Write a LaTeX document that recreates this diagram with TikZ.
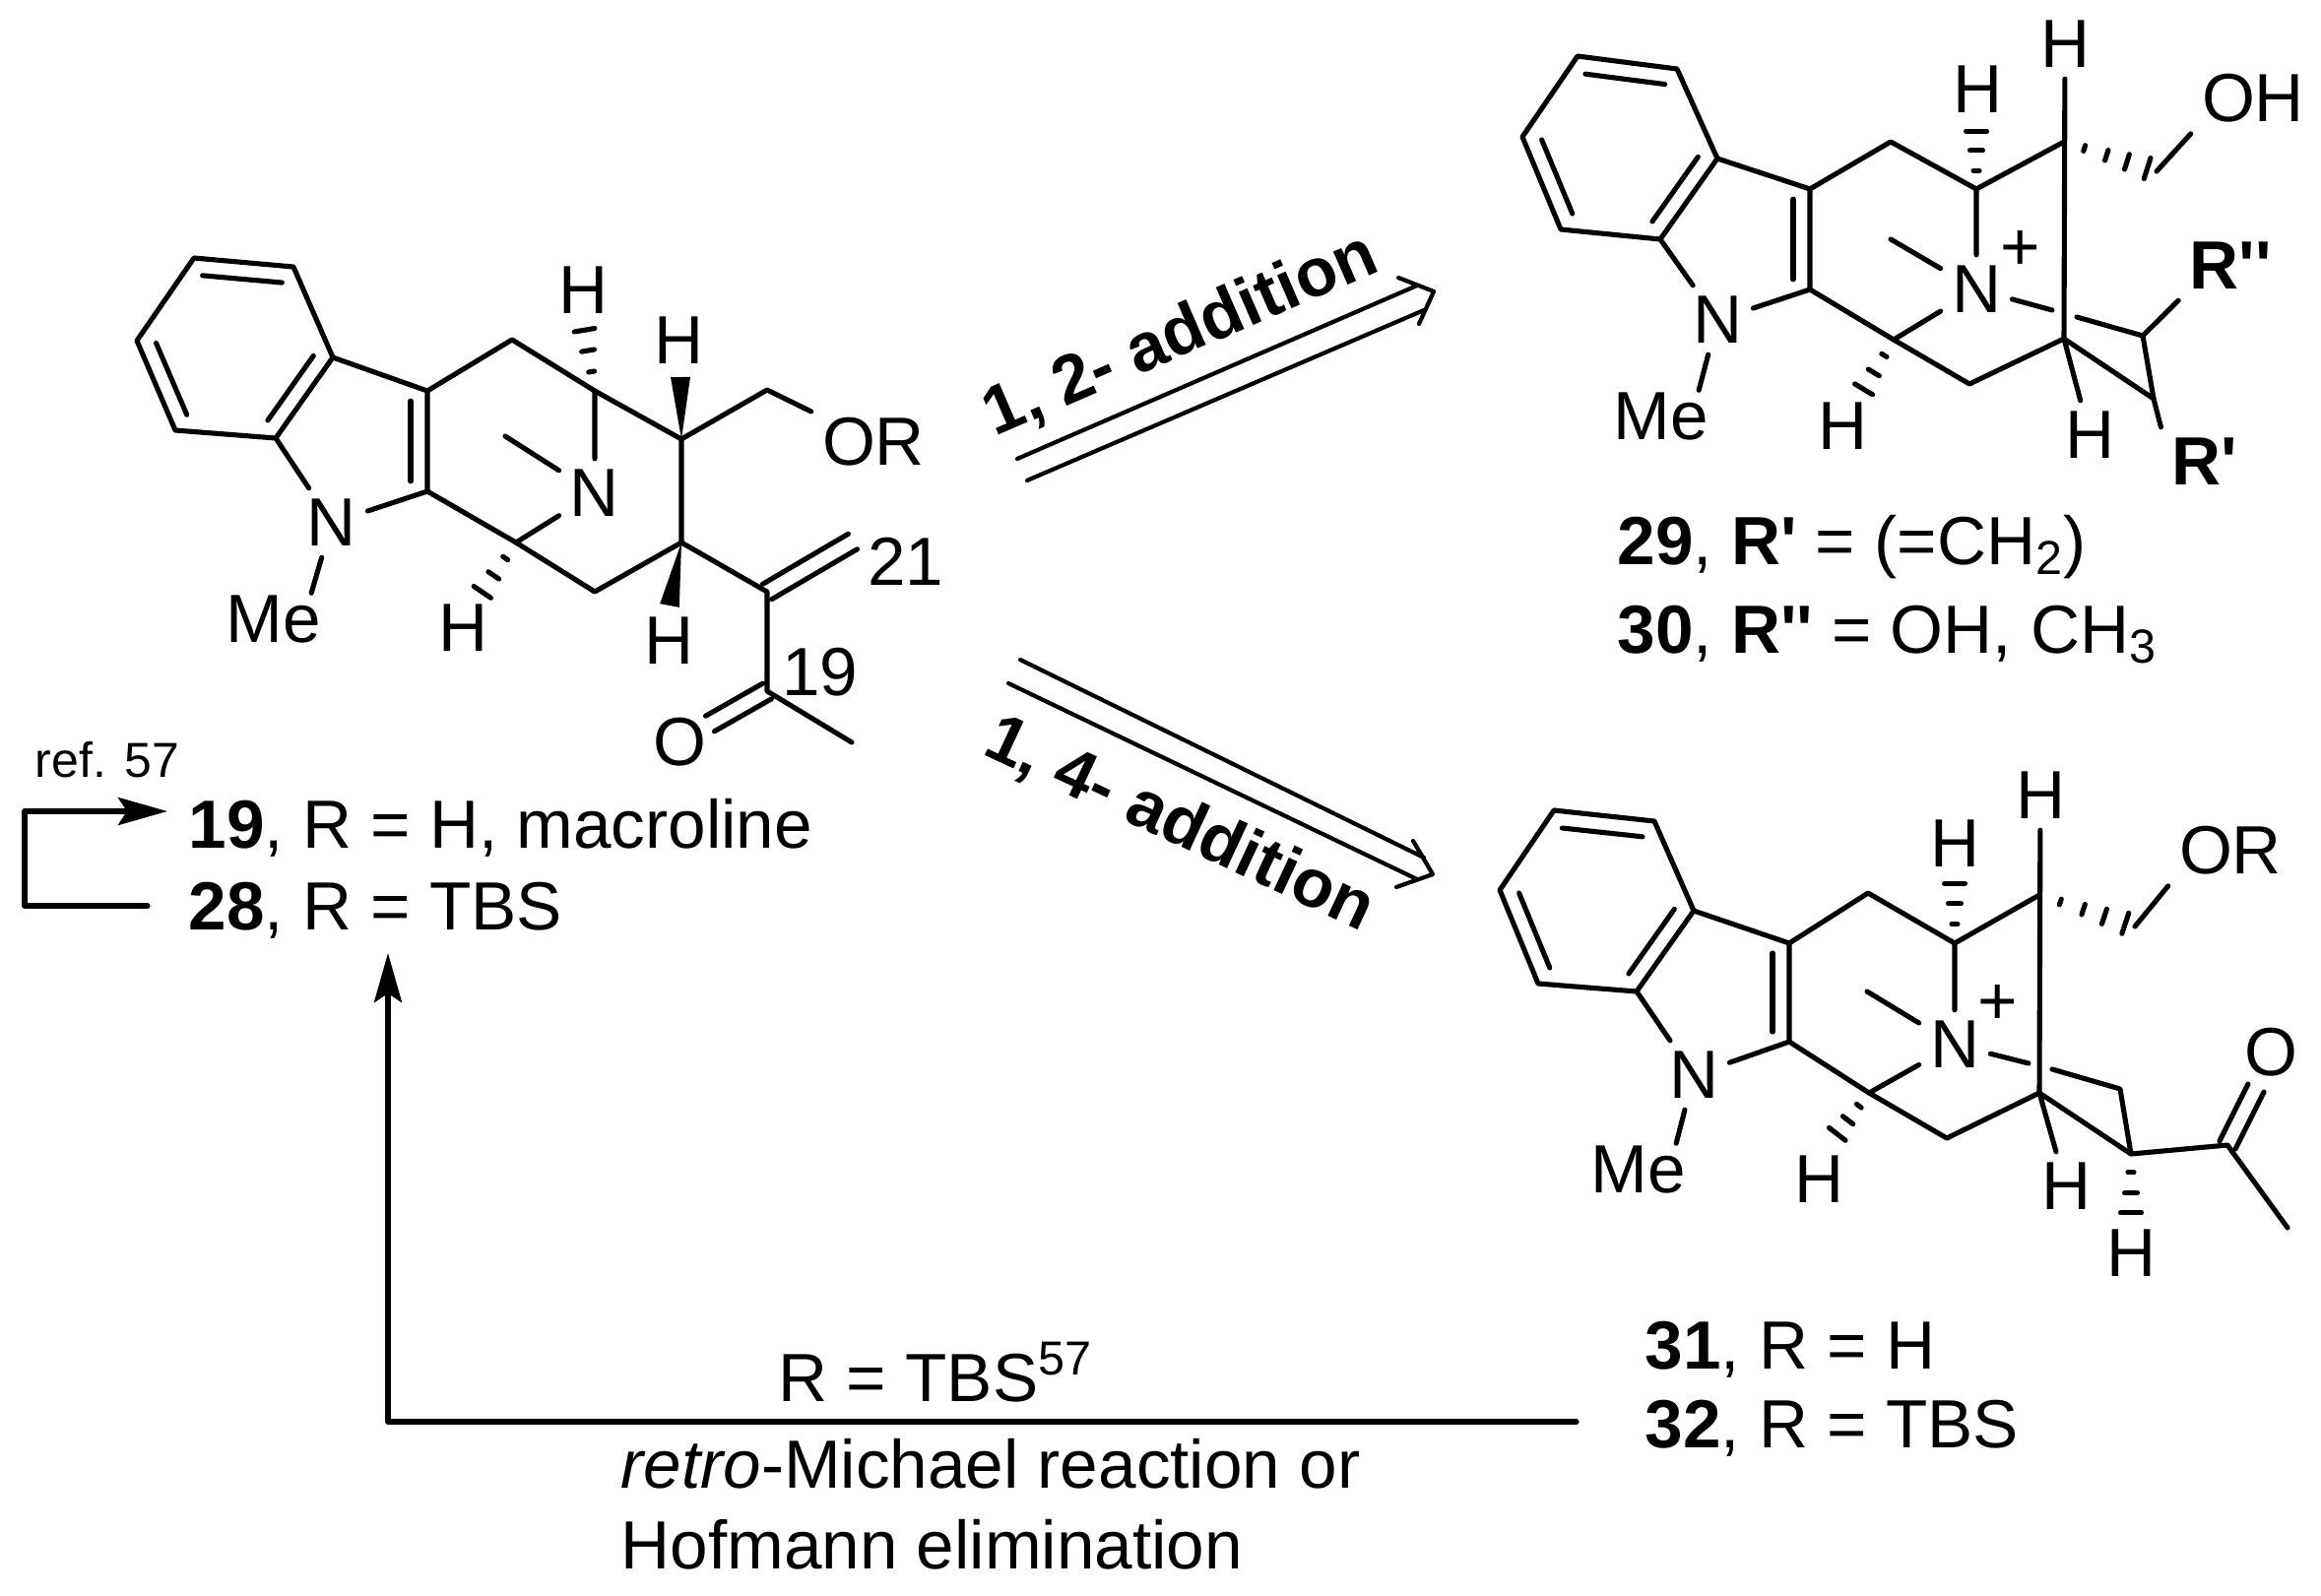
\documentclass[tikz,border=0pt]{standalone}
\usepackage{fontspec}
\setmainfont{Liberation Sans}
\newfontfamily\primefont{Liberation Sans}
\usetikzlibrary{calc,arrows.meta}
\tikzset{
atom/.style={inner xsep=2.5pt,inner ysep=2.5pt},
methyl/.style={inner xsep=2.5pt,inner ysep=0pt},
lbl/.style={anchor=base west,inner sep=0pt},
small/.style={font=\fontsize{14.2pt}{17pt}\selectfont},
addn/.style={font=\fontsize{19.7pt}{24pt}\selectfont\bfseries,inner sep=0pt},
}
\newcommand{\hashbond}[3]{\foreach \s/\w in {#3}{\draw ($(#1)!\s!(#2)!\w cm!90:(#2)$)--($(#1)!\s!(#2)!\w cm!-90:(#2)$);}}
\newcommand{\wedgebond}[2]{\fill (#1)--($(#2)!.1cm!90:(#1)$)--($(#2)!.1cm!-90:(#1)$)--cycle;}
\newcommand{\dblin}[3]{\draw ($(#1)!.1!(#2)!.17cm!#3:(#2)$)--($(#1)!.9!(#2)!.17cm!#3:(#2)$);}
\newcommand{\dblsym}[2]{\draw ($(#1)!.09cm!90:(#2)$)--($(#2)!.09cm!-90:(#1)$) ($(#1)!.09cm!-90:(#2)$)--($(#2)!.09cm!90:(#1)$);}
\newcommand{\Rp}[1]{{\primefont\bfseries R#1}}
\begin{document}
\begin{tikzpicture}[x=.01cm,y=-.01cm,font=\fontsize{19.7pt}{24pt}\selectfont,line join=round,line cap=round,line width=1.45pt,>={Stealth[length=.5cm,width=.28cm,inset=.09cm]}]
\useasboundingbox (0,0) rectangle (2357,1621);
\path (197,262) coordinate (a1) (298,271) coordinate (b1) (338,363) coordinate (c1) (280,445) coordinate (d1)
(178,437) coordinate (e1) (139,346) coordinate (f1) (434,397) coordinate (g1) (434,499) coordinate (h1)
(520,345) coordinate (i1) (604,397) coordinate (j1) (692,446) coordinate (k1) (692,551) coordinate (l1)
(604,601) coordinate (m1) (524,551) coordinate (n1) (513,443) coordinate (q1)
(593,332) coordinate (jh1) (488,604) coordinate (nh1)
(779,396) coordinate (o1) (779,601) coordinate (p1) (866,550) coordinate (v1) (779,702) coordinate (t1)
(721,735) coordinate (w1) (865,754) coordinate (u1) (691,383) coordinate (kw1) (680,615) coordinate (lw1);
\path (1602,57) coordinate (a2) (1703,70) coordinate (b2) (1744,161) coordinate (c2) (1686,243) coordinate (d2)
(1585,233) coordinate (e2) (1546,139) coordinate (f2) (1838,192) coordinate (g2) (1838,294) coordinate (h2)
(1920,144) coordinate (i2) (2007,192) coordinate (j2) (2096,144) coordinate (k2) (2096,344) coordinate (l2)
(2000,390) coordinate (m2) (1923,345) coordinate (n2) (1920,243) coordinate (q2)
(2007,130) coordinate (jh2) (1891,398) coordinate (nh2)
(2190,174) coordinate (o2) (2084,315) coordinate (ga2) (2109,322) coordinate (gb2)
(2176,341) coordinate (r2) (2187,405) coordinate (s2);
\path (1578,823) coordinate (a3) (1680,834) coordinate (b3) (1720,925) coordinate (c3) (1662,1007) coordinate (d3)
(1562,999) coordinate (e3) (1523,904) coordinate (f3) (1817,958) coordinate (g3) (1817,1058) coordinate (h3)
(1897,907) coordinate (i3) (1985,958) coordinate (j3) (2071,909) coordinate (k3) (2071,1110) coordinate (l3)
(1977,1156) coordinate (m3) (1898,1110) coordinate (n3) (1896,1007) coordinate (q3)
(1985,894) coordinate (jh3) (1864,1154) coordinate (nh3)
(2168,941) coordinate (o3) (2060,1080) coordinate (ga3) (2084,1086) coordinate (gb3)
(2153,1106) coordinate (r3) (2164,1172) coordinate (s3) (2262,1163) coordinate (t3)
(2291,1105) coordinate (w3) (2323,1247) coordinate (u3) (2164,1235) coordinate (sh3);
\node[atom] (Na1) at (337,531) {N};
\node[methyl] (Me1) at (278,629) {Me};
\node[atom] (Nb1) at (604,501) {N};
\node[atom] (Hj1) at (593,295) {H};
\node[atom] (Hk1) at (690,346) {H};
\node[atom] (Hn1) at (471,638) {H};
\node[atom] (Hl1) at (680,651) {H};
\node[atom] (OR1) at (887,449) {OR};
\node[atom] (O1) at (690,754) {O};
\node[atom] (C21) at (920,570) {21};
\node[atom] (C19) at (833,683) {19};
\node[atom] (Na2) at (1744,325) {N};
\node[methyl] (Me2) at (1687,423) {Me};
\node[atom] (Nb2) at (2007,294) {N};
\node[atom] (Hj2) at (2008,91) {H};
\node[atom] (Hk2) at (2097,45) {H};
\node[atom] (Hn2) at (1871,433) {H};
\node[atom] (Hl2) at (2122,442) {H};
\node[atom] (OH2) at (2288,100) {OH};
\node[atom] (plus2) at (2052,255) {+};
\node[atom] (Rb2) at (2265,270) {\Rp{''}};
\node[atom] (Ra2) at (2239,469) {\Rp{'}};
\node[atom] (Na3) at (1720,1092) {N};
\node[methyl] (Me3) at (1664,1188) {Me};
\node[atom] (Nb3) at (1985,1061) {N};
\node[atom] (Hj3) at (1985,857) {H};
\node[atom] (Hk3) at (2072,808) {H};
\node[atom] (Hn3) at (1847,1198) {H};
\node[atom] (Hl3) at (2098,1205) {H};
\node[atom] (Hs3) at (2164,1273) {H};
\node[atom] (OR3) at (2265,864) {OR};
\node[atom] (O3) at (2306,1069) {O};
\node[atom] (plus3) at (2029,1020) {+};
\foreach \m in {1,2,3}{
\draw (a\m)--(b\m)--(c\m)--(d\m)--(e\m)--(f\m)--cycle;
\dblin{a\m}{b\m}{-90}
\dblin{f\m}{e\m}{90}
\dblin{c\m}{d\m}{-90}
\dblin{g\m}{h\m}{-90}
\draw (c\m)--(g\m)--(h\m) (d\m)--(Na\m)--(h\m) (Na\m)--(Me\m.35);
\draw (g\m)--(i\m)--(j\m)--(k\m) (h\m)--(n\m)--(m\m)--(l\m);
\draw (j\m)--(Nb\m) (n\m)--(Nb\m) (q\m)--(Nb\m);
\hashbond{j\m}{jh\m}{.3/.03,.63/.065,.95/.105}
\hashbond{n\m}{nh\m}{.3/.03,.63/.065,.95/.105}
}
\draw (k1)--(l1) (k1)--(o1)--(OR1) (l1)--(p1)--(t1)--(u1);
\wedgebond{k1}{kw1}
\wedgebond{l1}{lw1}
\dblsym{p1}{v1}
\dblsym{t1}{w1}
\draw (Hk2)--(l2) (l2)--(Hl2) (l2)--(s2)--(r2)--(gb2) (ga2)--(Nb2) (o2)--(OH2.south west);
\draw (r2)--(Rb2.south west) (s2)--(Ra2.north west);
\hashbond{k2}{o2}{.22/.03,.46/.055,.68/.08,.9/.11}
\draw (Hk3)--(l3) (l3)--(Hl3) (l3)--(s3)--(r3)--(gb3) (ga3)--(Nb3) (o3)--(OR3.south west);
\draw (s3)--(t3)--(u3);
\dblsym{t3}{w3}
\hashbond{k3}{o3}{.22/.03,.46/.055,.68/.08,.9/.11}
\hashbond{s3}{sh3}{.3/.03,.63/.065,.95/.105}
\node[lbl] (lab19) at (189,861) {\textbf{19}, R = H, macroline};
\node[lbl] (lab28) at (189,944) {\textbf{28}, R = TBS};
\node[lbl] (lab29) at (1640,573) {\textbf{29}, \Rp{'} = (=CH\textsubscript{2})};
\node[lbl] (lab30) at (1640,663) {\textbf{30}, \Rp{''} = OH, CH\textsubscript{3}};
\node[lbl] (lab31) at (1668,1390) {\textbf{31}, R = H};
\node[lbl] (lab32) at (1668,1470) {\textbf{32}, R = TBS};
\node[lbl] (tbs) at (788,1423) {R = TBS\textsuperscript{57}};
\node[lbl] (retro) at (628,1511) {\textit{retro}-Michael reaction or};
\node[lbl] (hof) at (628,1593) {Hofmann elimination};
\node[small] (ref) at (109,772) {ref. 57};
\node[addn,rotate=23.4] (add12) at (1199,341) {1, 2- addition};
\node[addn,rotate=-25] (add14) at (1198,838) {1, 4- addition};
\path (150,920) coordinate (la) (25,920) coordinate (lb) (25,824) coordinate (lc) (170,824) coordinate (ld);
\path (1601,1444) coordinate (ra) (394,1444) coordinate (rb) (394,968) coordinate (rc);
\draw[->] (la)--(lb)--(lc)--(ld);
\draw[->] (ra)--(rb)--(rc);
\path (1033,466) coordinate (ua) (1439,290) coordinate (ub) (1043,488) coordinate (uc) (1446,315) coordinate (ud)
(1456,296) coordinate (ue) (1420,282) coordinate (uf) (1441,329) coordinate (ug);
\path (1036,670) coordinate (da) (1446,871) coordinate (db) (1024,694) coordinate (dc) (1439,893) coordinate (dd)
(1455,888) coordinate (de) (1435,854) coordinate (df) (1418,901) coordinate (dg);
\draw[line width=1.2pt] (ua)--(ub) (uc)--(ud) (uf)--(ue)--(ug);
\draw[line width=1.2pt] (da)--(db) (dc)--(dd) (df)--(de)--(dg);
\end{tikzpicture}
\end{document}
